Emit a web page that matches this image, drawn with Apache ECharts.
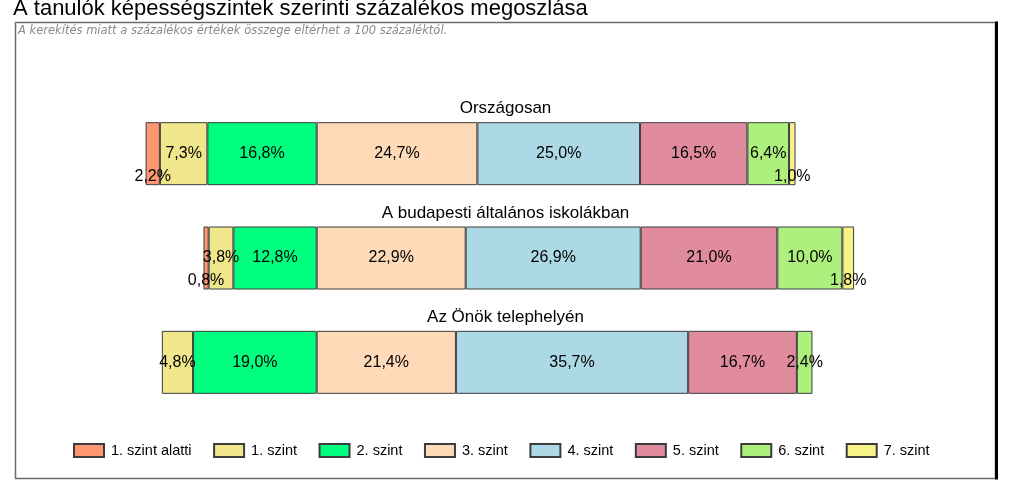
<!DOCTYPE html>
<html><head><meta charset="utf-8">
<script src="https://cdn.jsdelivr.net/npm/echarts@6/dist/echarts.min.js"></script>
<style>html,body{margin:0;padding:0;background:#fff}#c{width:1023px;height:502px}</style>
</head><body><div id="c"></div>
<script>
const categories = ['Országosan', 'A budapesti általános iskolákban', 'Az Önök telephelyén'];
const levels = ['1. szint alatti', '1. szint', '2. szint', '3. szint', '4. szint', '5. szint', '6. szint', '7. szint'];
const szintAlatti = [2.2, 0.8, 0];
const szint1 = [7.3, 3.8, 4.8];
const szint2 = [16.8, 12.8, 19.0];
const szint3 = [24.7, 22.9, 21.4];
const szint4 = [25.0, 26.9, 35.7];
const szint5 = [16.5, 21.0, 16.7];
const szint6 = [6.4, 10.0, 2.4];
const szint7 = [1.0, 1.8, 0];
const colors = ['#FF9672', '#F0E68C', '#00FF7F', '#FFDAB9', '#ADD8E6', '#E08C9E', '#AEF07E', '#F8F386'];
const titleText = 'A tanulók képességszintek szerinti százalékos megoszlása';
const noteText = 'A kerekítés miatt a százalékos értékek összege eltérhet a 100 százaléktól.';

const FONT = 'Arial, "Liberation Sans", sans-serif';
const ANCHOR = 30; // bars are aligned at the 2./3. szint boundary
const levelData = [szintAlatti, szint1, szint2, szint3, szint4, szint5, szint6, szint7];
const offsets = categories.map((_, i) => ANCHOR - (szintAlatti[i] + szint1[i] + szint2[i]));

const chart = echarts.init(document.getElementById('c'), null, { renderer: 'canvas' });

const series = [{
  name: '_offset', type: 'bar', stack: 'all', barWidth: 63, silent: true,
  itemStyle: { color: 'rgba(0,0,0,0)', borderWidth: 0 },
  label: { show: false }, emphasis: { disabled: true },
  data: offsets
}];
levels.forEach((name, k) => {
  series.push({
    name, type: 'bar', stack: 'all', barWidth: 63,
    itemStyle: { color: colors[k], borderColor: '#3c3c3c', borderWidth: 1 },
    emphasis: { disabled: true },
    label: {
      show: true, position: 'inside', fontSize: 16, fontFamily: FONT, color: '#000',
      formatter: p => p.value.toFixed(1).replace('.', ',') + '%'
    },
    data: levelData[k].map(v => {
      if (v === 0) return { value: 0, itemStyle: { borderWidth: 0 }, label: { show: false } };
      if (v < 2.3) return { value: v, label: { offset: [0, 23] } };
      return v;
    })
  });
});

chart.setOption({
  animation: false,
  backgroundColor: '#fff',
  grid: { left: 121.5, right: 55.7, top: 101.5, bottom: 87.5 },
  xAxis: { type: 'value', min: 0, max: 130, show: false },
  yAxis: { type: 'category', data: categories, inverse: true, show: false },
  legend: {
    data: levels, left: 68, top: 438, itemWidth: 30, itemHeight: 13, itemGap: 21.5,
    icon: 'rect', selectedMode: false,
    textStyle: { fontSize: 14.5, fontFamily: FONT, color: '#000', padding: [0, 0, 0, 2] }
  },
  series,
  graphic: [
    { id: 'box', type: 'rect', shape: { x: 15.5, y: 22.5, width: 980, height: 456 },
      style: { fill: 'none', stroke: '#6b6b6b', lineWidth: 1.5 }, z: 0 },
    { id: 'shadow', type: 'line', shape: { x1: 996.5, y1: 21.5, x2: 996.5, y2: 479.5 },
      style: { stroke: '#000', lineWidth: 3 }, z: 0 },
    { id: 'title', type: 'text', x: 13, y: 8.5,
      style: { text: titleText, fontSize: 22, fontFamily: FONT, fill: '#000', textVerticalAlign: 'middle' } },
    { id: 'note', type: 'text', x: 18, y: 31,
      style: { text: noteText, fontSize: 11.5, fontStyle: 'italic', fontFamily: '"DejaVu Sans", Verdana, sans-serif', fill: '#8a8a8a', textVerticalAlign: 'middle' } }
  ]
});

const catTitles = categories.map((c, i) => {
  const y = chart.convertToPixel({ yAxisIndex: 0 }, c);
  return { id: 'cat' + i, type: 'text', x: 505.5, y: y - 45,
    style: { text: c, fontSize: 17, fontFamily: FONT, fill: '#000', textAlign: 'center', textVerticalAlign: 'middle' } };
});
chart.setOption({ graphic: catTitles });
</script>
</body></html>
